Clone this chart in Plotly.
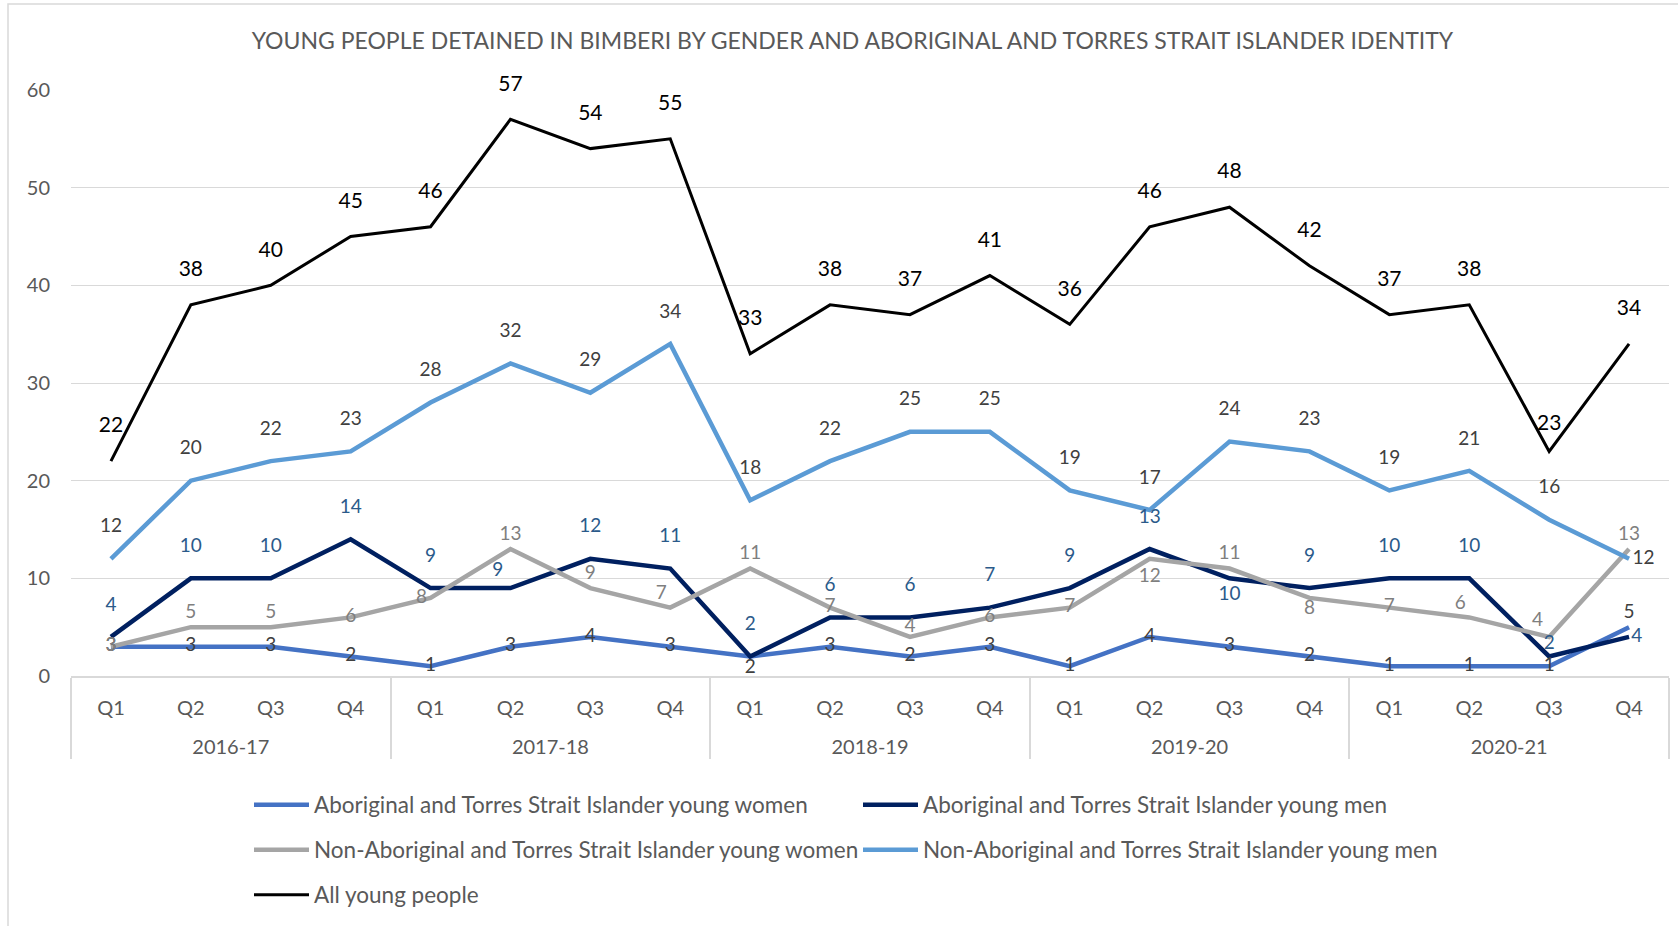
import plotly.graph_objects as go

years = ["2016-17", "2017-18", "2018-19", "2019-20", "2020-21"]
quarters = ["Q1", "Q2", "Q3", "Q4"]

ab_women = [3, 3, 3, 2, 1, 3, 4, 3, 2, 3, 2, 3, 1, 4, 3, 2, 1, 1, 1, 5]
ab_men = [4, 10, 10, 14, 9, 9, 12, 11, 2, 6, 6, 7, 9, 13, 10, 9, 10, 10, 2, 4]
non_ab_women = [3, 5, 5, 6, 8, 13, 9, 7, 11, 7, 4, 6, 7, 12, 11, 8, 7, 6, 4, 13]
non_ab_men = [12, 20, 22, 23, 28, 32, 29, 34, 18, 22, 25, 25, 19, 17, 24, 23, 19, 21, 16, 12]
all_people = [22, 38, 40, 45, 46, 57, 54, 55, 33, 38, 37, 41, 36, 46, 48, 42, 37, 38, 23, 34]

# the leading <br> pushes the year row down, as in the Excel original
x_years = ["<br>" + y for y in years for _ in quarters]
x_quarters = [q for _ in years for q in quarters]
x = [x_years, x_quarters]

FONT = "Lato, sans-serif"
GREY_TXT = "#595959"

TC, MC, BC = "top center", "middle center", "bottom center"
ML, MR, TL = "middle left", "middle right", "top left"

# label placement: default (position, offset) per series, plus a few points moved by hand
series = [
    dict(name="Aboriginal and Torres Strait Islander young women", y=ab_women,
         color="#4472C4", width=4.5, label_color="#404040", size=19, legend="legend",
         pos=(MC, 2), moved={8: (BC, 2), 19: (TC, 6)}),
    dict(name="Aboriginal and Torres Strait Islander young men", y=ab_men,
         color="#002060", width=4.5, label_color="#2B5A8A", size=19, legend="legend",
         pos=(TC, 33), moved={5: (TL, 10), 14: (BC, 10), 18: (TC, 2), 19: (MR, 2)}),
    dict(name="Non-Aboriginal and Torres Strait Islander young women", y=non_ab_women,
         color="#A5A5A5", width=4.5, label_color="#7F7F7F", size=19, legend="legend2",
         pos=(TC, 6), moved={0: (MC, 2), 3: (MC, 2), 4: (ML, 4), 7: (TL, 4), 9: (MC, 2),
                             10: (TC, 0), 11: (MC, 2), 12: (MC, 2), 13: (BC, 12),
                             15: (BC, 2), 16: (MC, 2), 17: (TL, 4), 18: (TL, 8)}),
    dict(name="Non-Aboriginal and Torres Strait Islander young men", y=non_ab_men,
         color="#5B9BD5", width=4.5, label_color="#404040", size=19, legend="legend2",
         pos=(TC, 33), moved={19: (MR, 4)}),
    dict(name="All young people", y=all_people,
         color="#000000", width=3, label_color="#000000", size=21, legend="legend3",
         pos=(TC, 36), moved={18: (TC, 24)}),
]

fig = go.Figure()
for s in series:
    fig.add_trace(go.Scatter(
        x=x, y=s["y"], name=s["name"], mode="lines",
        line=dict(color=s["color"], width=s["width"]),
        legend=s["legend"], hoverinfo="skip",
    ))
# data labels drawn on top of all lines, like Excel
for s in series:
    n = len(s["y"])
    place = [s["moved"].get(i, s["pos"]) for i in range(n)]
    fig.add_trace(go.Scatter(
        x=x, y=s["y"], mode="markers+text", text=[str(v) for v in s["y"]],
        textposition=[p[0] for p in place],
        marker=dict(size=[p[1] for p in place], opacity=0),
        showlegend=False, hoverinfo="skip",
        textfont=dict(family=FONT, size=s["size"], color=s["label_color"]),
        cliponaxis=False,
    ))

legend_common = dict(
    orientation="h", xanchor="left", yanchor="middle", x=249 / 1678,
    xref="container", yref="container",
    font=dict(family=FONT, size=22.5, color=GREY_TXT),
    entrywidth=539, itemwidth=55, bgcolor="rgba(0,0,0,0)",
)

fig.update_layout(
    width=1678, height=926,
    paper_bgcolor="white", plot_bgcolor="white",
    margin=dict(l=71, r=9, t=90, b=250),
    font=dict(family=FONT, size=19, color=GREY_TXT),
    title=dict(
        text="YOUNG PEOPLE DETAINED IN BIMBERI BY GENDER AND ABORIGINAL AND TORRES STRAIT ISLANDER IDENTITY",
        x=0.508, xanchor="center", y=1 - 41 / 926, yanchor="middle",
        font=dict(family=FONT, size=23, color=GREY_TXT),
    ),
    legend=dict(legend_common, y=1 - 805 / 926),
    legend2=dict(legend_common, y=1 - 850 / 926),
    legend3=dict(legend_common, y=1 - 895 / 926),
    showlegend=True,
)
fig.update_yaxes(
    range=[0, 60], dtick=10, showgrid=True, gridcolor="#D9D9D9", gridwidth=1,
    zeroline=False, showline=False, ticks="outside", ticklen=16,
    tickcolor="rgba(0,0,0,0)", tickfont=dict(family=FONT, size=20, color=GREY_TXT),
)
fig.update_xaxes(
    type="multicategory", range=[-0.5, len(x_quarters) - 0.5],
    showline=True, linecolor="#D9D9D9", linewidth=1.5,
    showdividers=True, dividercolor="#D9D9D9", dividerwidth=1.5,
    ticks="", ticklabelstandoff=13,
    tickfont=dict(family=FONT, size=20, color=GREY_TXT), showgrid=False,
)
fig.add_shape(type="rect", xref="paper", yref="paper",
              x0=(8 - 71) / 1598, x1=1.01, y0=-0.5, y1=(676 - 4) / 586,
              line=dict(color="#D9D9D9", width=1.5))

fig.write_html("out.html", config={"displayModeBar": False},
               post_script="document.body.style.margin='0';")
